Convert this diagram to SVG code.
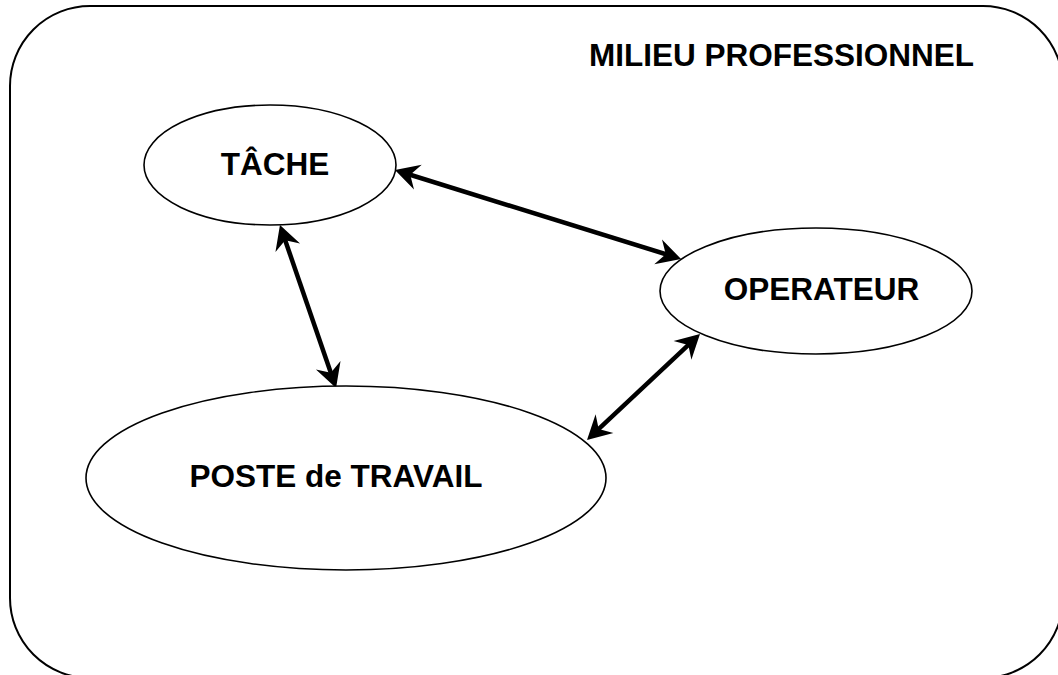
<svg xmlns="http://www.w3.org/2000/svg" width="1058" height="675" viewBox="0 0 1058 675">
<defs>
<style>
.frame{fill:#fff;stroke:#000;stroke-width:2}
.node{fill:#fff;stroke:#000;stroke-width:1.6}
.lbl{font-family:"Liberation Sans",Arial,sans-serif;font-weight:bold;font-size:31.5px;fill:#000;text-anchor:middle}
.conn{stroke:#000;stroke-width:4.5;fill:none;marker-start:url(#ah);marker-end:url(#ah)}
</style>
<marker id="ah" markerUnits="userSpaceOnUse" viewBox="-16 -15 28 30" refX="0" refY="0" markerWidth="28" markerHeight="30" orient="auto-start-reverse">
<path d="M10,0 L-14,-13 L-6,0 L-14,13 Z" fill="#000"/>
</marker>
</defs>
<rect width="1058" height="675" fill="#fff"/>
<g id="milieu">
<rect class="frame" x="10" y="6" width="1053" height="672" rx="80" ry="80"/>
<text class="lbl" x="781.5" y="66">MILIEU PROFESSIONNEL</text>
</g>
<g id="connectors">
<line class="conn" x1="404.5" y1="173" x2="671.5" y2="256"/>
<line class="conn" x1="283.2" y1="234.5" x2="332.8" y2="378.5"/>
<line class="conn" x1="692.7" y1="340.8" x2="594.3" y2="433.2"/>
</g>
<g id="tache">
<ellipse class="node" cx="270" cy="165" rx="126" ry="60"/>
<text class="lbl" x="275" y="175">TÂCHE</text>
</g>
<g id="operateur">
<ellipse class="node" cx="816" cy="291" rx="156" ry="63"/>
<text class="lbl" x="821.5" y="300">OPERATEUR</text>
</g>
<g id="poste">
<ellipse class="node" cx="346" cy="478" rx="260" ry="92"/>
<text class="lbl" x="336" y="487">POSTE de TRAVAIL</text>
</g>
</svg>
